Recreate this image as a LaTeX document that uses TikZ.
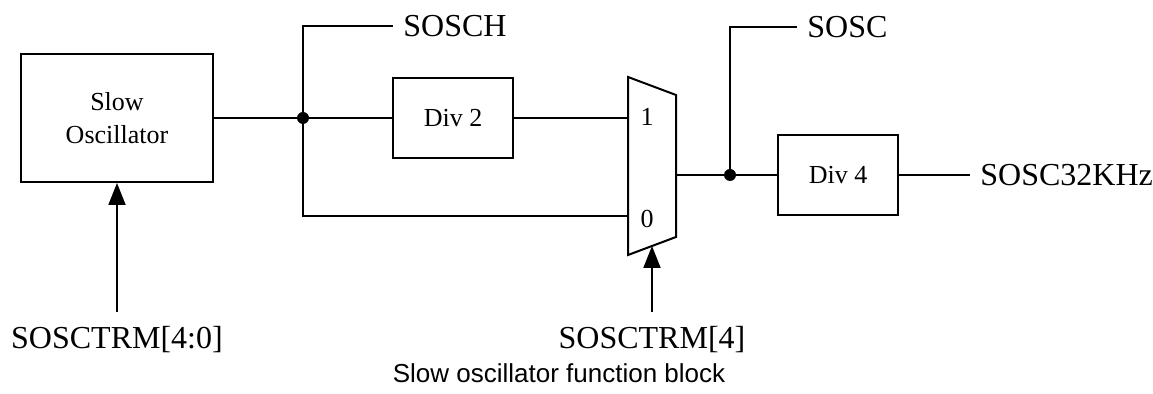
\documentclass[tikz,border=0pt]{standalone}
\usepackage{fontspec}
\setmainfont{Liberation Serif}
\newfontfamily\capfont{Liberation Sans}
\usetikzlibrary{arrows.meta}

\tikzset{
  blk/.style={draw, line width=1pt, inner sep=0pt, align=center,
    minimum width=60pt, minimum height=40pt, font=\fontsize{13}{16.5}\selectfont},
  sig/.style={inner xsep=5pt, inner ysep=7pt, font=\fontsize{16}{19}\selectfont},
  wire/.style={line width=1pt},
  ctl/.style={wire, -{Triangle[length=11pt,width=8.5pt]}},
  jdot/.style={circle, fill, inner sep=0pt, minimum size=6pt},
  muxin/.style={font=\fontsize{13}{15}\selectfont}
}

\begin{document}
\begin{tikzpicture}[x=0.5pt,y=-0.5pt]
\useasboundingbox (0,0) rectangle (1153,394);

\node[blk, minimum width=96pt, minimum height=64pt] (osc) at (117,118) {Slow\\Oscillator};
\node[blk] (div2) at (453,118) {Div 2};
\node[blk] (div4) at (838,175) {Div 4};

% mux
\coordinate (m1) at (628,77);
\coordinate (m2) at (676,95);
\coordinate (m3) at (676,237);
\coordinate (m4) at (628,255);
\draw[wire] (m1) -- (m2) -- (m3) -- (m4) -- cycle;
\coordinate (in1) at (628,118);
\coordinate (in0) at (628,216);
\coordinate (mout) at (676,175);
\coordinate (sel) at (652,246);
\node[muxin] (l1) at (647,117) {1};
\node[muxin] (l0) at (647,219) {0};

\coordinate (j1) at (303,118);
\coordinate (j2) at (730,175);

\node[sig, anchor=west] (sosch) at (393,26) {SOSCH};
\node[sig, anchor=west] (sosc) at (797,27) {SOSC};
\node[sig, anchor=west] (s32k) at (970,175) {SOSC32KHz};
\node[sig] (trm40) at (117,340) {SOSCTRM[4:0]};
\node[sig] (trm4) at (652,340) {SOSCTRM[4]};

\draw[wire] (osc.east) -- (j1) -- (div2.west);
\draw[wire] (div2.east) -- (in1);
\draw[wire] (j1) |- (in0);
\draw[wire] (j1) |- (sosch.west);
\draw[wire] (mout) -- (j2) -- (div4.west);
\draw[wire] (j2) |- (sosc.west);
\draw[wire] (div4.east) -- (s32k.west);

\draw[ctl] (trm40.north) -- (osc.south);
\draw[ctl] (trm4.north) -- (sel);

\node[jdot] (d1) at (j1) {};
\node[jdot] (d2) at (j2) {};

\node[font=\capfont\fontsize{13}{15}\selectfont] (cap) at (559,373) {Slow oscillator function block};
\end{tikzpicture}
\end{document}
